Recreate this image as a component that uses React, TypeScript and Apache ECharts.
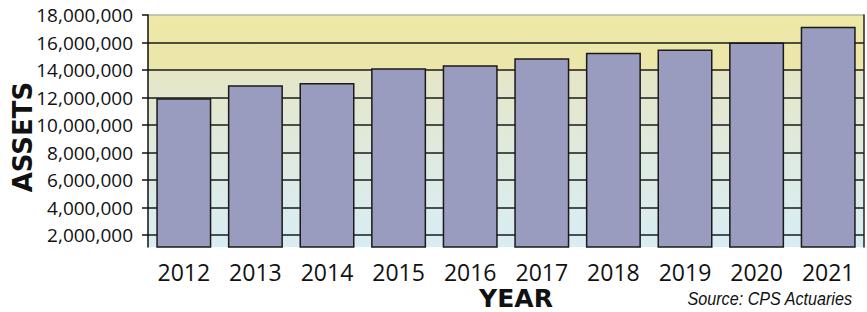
import React, { useEffect, useRef } from "react";
import * as echarts from "echarts";

const years = ["2012", "2013", "2014", "2015", "2016", "2017", "2018", "2019", "2020", "2021"];
const assets = [11950000, 12900000, 13050000, 14120000, 14340000, 14850000, 15260000, 15500000, 16000000, 17150000];
const yTickValues = [2000000, 4000000, 6000000, 8000000, 10000000, 12000000, 14000000, 16000000, 18000000];
const yAxisTitle = "ASSETS";
const xAxisTitle = "YEAR";
const sourceNote = "Source: CPS Actuaries";

export default function App() {
  const ref = useRef<HTMLDivElement>(null);
  useEffect(() => {
    const chart = echarts.init(ref.current!, null, { renderer: "svg" });
    chart.setOption({
      animation: false,
      grid: {
        left: 148,
        top: 15,
        right: 3,
        bottom: 65,
        show: true,
        borderWidth: 0,
        backgroundColor: new echarts.graphic.LinearGradient(0, 0, 0, 1, [
          { offset: 0, color: "#efe9a6" },
          { offset: 0.233, color: "#ebe6aa" },
          { offset: 0.24, color: "#e6e6c6" },
          { offset: 0.55, color: "#dfeadc" },
          { offset: 1, color: "#d8edf4" },
        ]),
      },
      xAxis: {
        type: "category",
        data: years,
        axisLine: { show: false },
        axisTick: { show: false },
        axisLabel: {
          color: "#111",
          fontFamily: "'Open Sans', sans-serif",
          fontSize: 23,
          margin: 13,
        },
      },
      yAxis: [
        {
          type: "value",
          min: 1130000,
          max: 18000000,
          axisLine: { show: true, lineStyle: { color: "#111", width: 1.5 } },
          axisTick: {
            show: true,
            length: 6,
            customValues: yTickValues,
            lineStyle: { color: "#111", width: 1.5 },
          },
          axisLabel: {
            customValues: yTickValues,
            color: "#111",
            fontFamily: "'Open Sans', sans-serif",
            fontSize: 19,
            margin: 15,
            formatter: (v: number) => Math.round(v).toLocaleString("en-US"),
          },
          splitLine: {
            show: true,
            lineStyle: {
              color: ["#1a1a1a", "#1a1a1a", "#1a1a1a", "#1a1a1a", "#1a1a1a", "#1a1a1a", "#1a1a1a", "#1a1a1a", "#b8b6a0"],
              width: 1.5,
            },
          },
        },
        {
          type: "value",
          position: "right",
          min: 1130000,
          max: 18000000,
          axisLine: { show: true, lineStyle: { color: "#222", width: 1.5 } },
          axisTick: { show: false },
          axisLabel: { show: false },
          splitLine: { show: false },
        },
      ],
      series: [
        {
          type: "bar",
          data: assets,
          barWidth: 55,
          itemStyle: {
            color: "#9a9cbf",
            borderColor: "#1a1a1a",
            borderWidth: 1.5,
          },
        },
      ],
      graphic: [
        {
          type: "text",
          x: 23,
          y: 137,
          rotation: Math.PI / 2,
          style: {
            text: yAxisTitle,
            fill: "#111",
            font: "bold 26px 'DejaVu Sans', sans-serif",
            textAlign: "center",
            textVerticalAlign: "middle",
          },
        },
        {
          type: "text",
          x: 516,
          y: 298,
          style: {
            text: xAxisTitle,
            fill: "#111",
            font: "bold 25px 'DejaVu Sans', sans-serif",
            textAlign: "center",
            textVerticalAlign: "middle",
          },
        },
        {
          type: "text",
          x: 852,
          y: 299,
          scaleX: 0.85,
          style: {
            text: sourceNote,
            fill: "#111",
            font: "italic 19px 'Liberation Sans', sans-serif",
            textAlign: "right",
            textVerticalAlign: "middle",
          },
        },
      ],
    });
    return () => chart.dispose();
  }, []);
  return <div ref={ref} style={{ position: "absolute", left: 0, top: 0, width: 867, height: 312 }} />;
}
